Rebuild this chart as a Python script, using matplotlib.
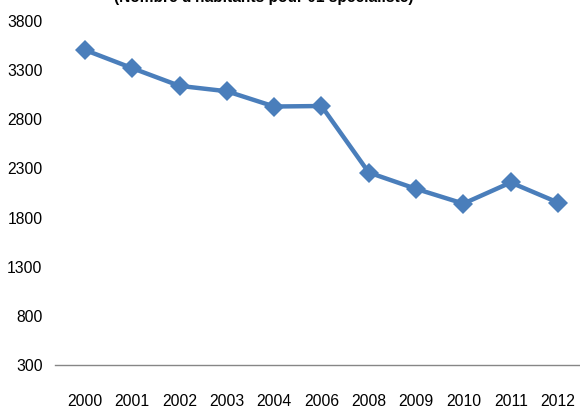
import matplotlib.pyplot as plt

# données
years = ["2000", "2001", "2002", "2003", "2004", "2006",
         "2008", "2009", "2010", "2011", "2012"]
habitants = [3505, 3320, 3140, 3085, 2930, 2935,
             2258, 2092, 1942, 2157, 1953]
y_ticks = [300, 800, 1300, 1800, 2300, 2800, 3300, 3800]
title = "(Nombre d'habitants pour 01 spécialiste)"

plt.rcParams['font.family'] = ['Liberation Sans', 'DejaVu Sans']

fig = plt.figure(figsize=(5.8, 4.12), dpi=100)
ax = fig.add_axes([55 / 580, 47 / 412, 525 / 580, 344 / 412])

x = list(range(len(years)))
ax.plot(x, habitants, color='#4A7EBB', linewidth=3.2, marker='D',
        markersize=10, markeredgewidth=0, clip_on=False)

ax.set_xlim(-0.634, 10.465)
ax.set_ylim(300, 3800)
ax.set_xticks(x)
ax.set_xticklabels(years)
ax.set_yticks(y_ticks)
ax.tick_params(axis='both', length=0, labelsize=11.3, colors='black')
ax.tick_params(axis='x', pad=21)
ax.tick_params(axis='y', pad=9)

for side in ['top', 'right', 'left']:
    ax.spines[side].set_visible(False)
ax.spines['bottom'].set_color('#868686')
ax.spines['bottom'].set_linewidth(1)

# le titre est coupé en haut, comme dans l'image d'origine
fig.text(264 / 580, 1 - 2 / 412, title, ha='center', va='baseline',
         fontsize=11.2, fontweight='bold')

fig.savefig('out.png', dpi=100)
